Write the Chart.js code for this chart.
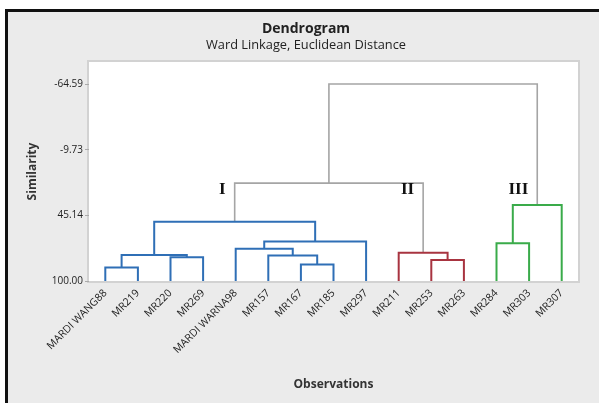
<!DOCTYPE html>
<html>
<head>
<meta charset="utf-8">
<script src="https://cdn.jsdelivr.net/npm/chart.js@4.4.0/dist/chart.umd.min.js"></script>
<style>
    html, body { margin: 0; padding: 0; background: #fff; }
    #wrap {
        position: absolute; left: 5px; top: 9px;
        width: 591px; height: 391px;
        border-top: 3px solid #111; border-left: 3px solid #111;
        background: #ebebeb;
    }
    canvas { display: block; }
</style>
</head>
<body>
<div id="wrap"><canvas id="chart" width="591" height="391"></canvas></div>
<script>
// --- data ---
const leaves = ['MARDI WANG88', 'MR219', 'MR220', 'MR269', 'MARDI WARNA98', 'MR157', 'MR167',
    'MR185', 'MR297', 'MR211', 'MR253', 'MR263', 'MR284', 'MR303', 'MR307'];
const yTicks = [-64.59, -9.73, 45.14, 100.00];

// linkage: leaves are nodes 0..14, merge k creates node 15+k
const mergeA = [0, 6, 10, 2, 5, 15, 9, 4, 12, 22, 20, 23, 25, 27];
const mergeB = [1, 7, 11, 3, 16, 18, 17, 19, 13, 8, 24, 14, 21, 26];
const mergeHeight = [88.7, 86.2, 82.5, 80.2, 78.7, 78.3, 76.4, 73.0, 68.5, 67.0, 50.5, 36.5, 18.2, -64.59];
const mergeGroup = ['I', 'I', 'II', 'I', 'I', 'I', 'II', 'I', 'III', 'I', 'I', 'III', null, null];
const groupNames = ['I', 'II', 'III'];

const groupColors = { I: '#2f6fb6', II: '#a83440', III: '#3aab4a', top: '#a5a5a5' };

// build the link segments (U shapes) for each group
const nodeX = leaves.map((_, i) => i);
const nodeH = leaves.map(() => 100);
const segs = { I: [], II: [], III: [], top: [] };
const groupTop = {};

mergeA.forEach((a, k) => {
    const b = mergeB[k];
    const h = mergeHeight[k];
    const g = mergeGroup[k] || 'top';
    segs[g].push(
        { x: nodeX[a], y: nodeH[a] }, { x: nodeX[a], y: h },
        { x: nodeX[b], y: h }, { x: nodeX[b], y: nodeH[b] },
        { x: nodeX[b], y: null }
    );
    nodeX.push((nodeX[a] + nodeX[b]) / 2);
    nodeH.push(h);
    if (mergeGroup[k]) groupTop[g] = nodeX[nodeX.length - 1];
});

const datasets = Object.keys(segs).map(g => ({
    label: g,
    data: segs[g],
    showLine: true,
    spanGaps: false,
    borderColor: groupColors[g],
    borderWidth: g === 'top' ? 1.6 : 2,
    pointRadius: 0,
    pointHoverRadius: 0,
    borderJoinStyle: 'miter'
}));

const font = '"Open Sans", "DejaVu Sans", sans-serif';

const frame = {
    id: 'frame',
    beforeDraw(chart) {
        const { ctx, chartArea: a } = chart;
        ctx.save();
        ctx.fillStyle = '#fff';
        ctx.fillRect(a.left, a.top, a.right - a.left, a.bottom - a.top);
        ctx.strokeStyle = '#d2d2d2';
        ctx.lineWidth = 2;
        ctx.strokeRect(a.left - 1, a.top - 1, a.right - a.left + 2, a.bottom - a.top + 2);
        ctx.restore();
    },
    afterDraw(chart) {
        const { ctx, chartArea: a, scales } = chart;
        ctx.save();
        ctx.fillStyle = '#222';
        ctx.textAlign = 'center';
        ctx.textBaseline = 'middle';
        ctx.font = 'bold 14px ' + font;
        ctx.fillText('Dendrogram', 298, 17);
        ctx.font = '12.8px ' + font;
        ctx.fillText('Ward Linkage, Euclidean Distance', 298, 33);

        ctx.fillStyle = '#333';
        ctx.font = 'bold 12px ' + font;
        ctx.fillText('Observations', (a.left + a.right) / 2, 373);
        ctx.save();
        ctx.translate(25, (a.top + a.bottom) / 2);
        ctx.rotate(-Math.PI / 2);
        ctx.fillText('Similarity', 0, 0);
        ctx.restore();

        // cluster numerals
        ctx.fillStyle = '#111';
        ctx.font = 'bold 17px "Liberation Serif", serif';
        ctx.textAlign = 'right';
        groupNames.forEach(g => {
            const px = scales.x.getPixelForValue(groupTop[g]) - 9;
            const py = scales.y.getPixelForValue(24);
            ctx.fillText(g, px, py);
        });
        ctx.restore();
    }
};

new Chart(document.getElementById('chart'), {
    type: 'scatter',
    data: { datasets },
    options: {
        responsive: false,
        animation: false,
        layout: { padding: { top: 50, right: 21, left: 0, bottom: 0 } },
        plugins: {
            legend: { display: false },
            tooltip: { enabled: false }
        },
        scales: {
            x: {
                type: 'linear',
                min: -0.5,
                max: 14.5,
                afterBuildTicks: s => { s.ticks = leaves.map((_, i) => ({ value: i })); },
                afterFit: s => { s.height = 122; },
                grid: { display: false, drawTicks: false },
                border: { display: false },
                ticks: {
                    autoSkip: false,
                    minRotation: 45,
                    maxRotation: 45,
                    padding: 6,
                    color: '#222',
                    font: { family: font, size: 10.5 },
                    callback: v => leaves[v]
                }
            },
            y: {
                type: 'linear',
                min: -83,
                max: 100,
                reverse: true,
                afterBuildTicks: s => { s.ticks = yTicks.map(v => ({ value: v })); },
                afterFit: s => { s.width = 81; },
                grid: { drawOnChartArea: false, drawTicks: true, tickLength: 4, color: '#aaa' },
                border: { display: false },
                ticks: {
                    padding: 2,
                    color: '#222',
                    font: { family: font, size: 10 },
                    callback: v => v.toFixed(2)
                }
            }
        }
    },
    plugins: [frame]
});
</script>
</body>
</html>
